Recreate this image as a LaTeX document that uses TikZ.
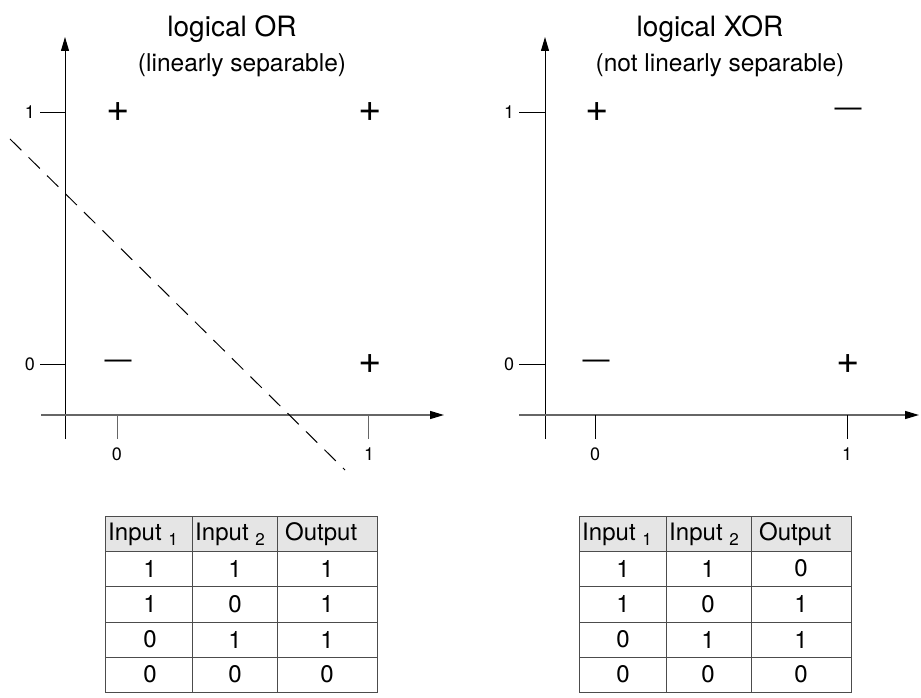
\documentclass[tikz,border=0pt]{standalone}
\usepackage{fontspec}
\setmainfont{TeX Gyre Heros}
\usetikzlibrary{arrows.meta}
\definecolor{headfill}{gray}{0.9}
\definecolor{gridcol}{gray}{0.3}
\definecolor{axcol}{gray}{0.4}
\begin{document}
\begin{tikzpicture}[x=1pt,y=-1pt,
  axisline/.style={line width=1pt,-{Triangle[length=14pt,width=8pt]}},
  hax/.style={line width=1.3pt,draw=axcol,-{Triangle[length=14pt,width=8pt,fill=black,color=black]}},
  tickline/.style={line width=0.9pt},
  ticklabel/.style={font=\fontsize{18}{18}\selectfont,inner sep=0pt},
  sym/.style={font=\fontsize{40}{40}\selectfont,inner sep=0pt},
  minussym/.style={font=\fontsize{27}{27}\selectfont,inner sep=0pt},
  titletext/.style={font=\fontsize{28}{28}\selectfont,inner sep=0pt,anchor=base},
  subtitletext/.style={font=\fontsize{24.5}{24.5}\selectfont,inner sep=0pt,anchor=base},
  cell/.style={font=\fontsize{24}{24}\selectfont,inner sep=0pt},
  subnum/.style={font=\fontsize{17}{17}\selectfont},
  gridline/.style={draw=gridcol,line width=0.9pt},
  sepline/.style={dashed,line width=1pt,dash pattern=on 16pt off 10pt}
]
\useasboundingbox (0,0) rectangle (921,698);
\fill[white] (0,0) rectangle (921,698);

% ---------------- left panel (OR) ----------------
\coordinate (Lyb) at (65,439);
\coordinate (Lyt) at (65,37);
\coordinate (Lxl) at (41,415);
\coordinate (Lxr) at (444,415);
\draw[axisline] (Lyb) -- (Lyt);
\draw[hax] (Lxl) -- (Lxr);
\coordinate (Lt0a) at (117,415); \coordinate (Lt0b) at (117,439);
\coordinate (Lt1a) at (368,415); \coordinate (Lt1b) at (368,439);
\draw[tickline,draw=axcol] (Lt0a) -- (Lt0b);
\draw[tickline,draw=axcol] (Lt1a) -- (Lt1b);
\coordinate (Ly1a) at (40,112); \coordinate (Ly1b) at (65,112);
\coordinate (Ly0a) at (40,364); \coordinate (Ly0b) at (65,364);
\draw[tickline] (Ly1a) -- (Ly1b);
\draw[tickline] (Ly0a) -- (Ly0b);
\node[ticklabel] (Lx0) at (117,454) {0};
\node[ticklabel] (Lx1) at (369,454) {1};
\node[ticklabel] (Ly1) at (30,112) {1};
\node[ticklabel] (Ly0) at (30,364) {0};
\node[sym] (Lp11) at (118,112) {+};
\node[sym] (Lp12) at (370,112) {+};
\node[minussym] (Lm00) at (118,364) {—};
\node[sym] (Lp10) at (370,364) {+};
\coordinate (Ds) at (10,139);
\coordinate (De) at (345,470);
\draw[sepline] (Ds) -- (De);
\node[titletext] (Ltitle) at (232,37) {logical OR};
\node[subtitletext] (Lsub) at (242,72) {(linearly separable)};

% ---------------- right panel (XOR) ----------------
\coordinate (Ryb) at (545,439);
\coordinate (Ryt) at (545,37);
\coordinate (Rxl) at (519,415);
\coordinate (Rxr) at (919,415);
\draw[axisline] (Ryb) -- (Ryt);
\draw[hax] (Rxl) -- (Rxr);
\coordinate (Rt0a) at (595,415); \coordinate (Rt0b) at (595,439);
\coordinate (Rt1a) at (847,415); \coordinate (Rt1b) at (847,439);
\draw[tickline] (Rt0a) -- (Rt0b);
\draw[tickline] (Rt1a) -- (Rt1b);
\coordinate (Ry1a) at (519,112); \coordinate (Ry1b) at (545,112);
\coordinate (Ry0a) at (519,364); \coordinate (Ry0b) at (545,364);
\draw[tickline] (Ry1a) -- (Ry1b);
\draw[tickline] (Ry0a) -- (Ry0b);
\node[ticklabel] (Rx0) at (595,454) {0};
\node[ticklabel] (Rx1) at (847,454) {1};
\node[ticklabel] (Ry1) at (509,112) {1};
\node[ticklabel] (Ry0) at (509,364) {0};
\node[sym] (Rp01) at (597,112) {+};
\node[minussym] (Rm11) at (848,112) {—};
\node[minussym] (Rm00) at (596,364) {—};
\node[sym] (Rp10) at (848,364) {+};
\node[titletext] (Rtitle) at (710,37) {logical XOR};
\node[subtitletext] (Rsub) at (720,72) {(not linearly separable)};

% ---------------- tables ----------------
\foreach \tab/\xa/\xb/\xc/\xd in {L/105/192/277/377, R/579/666/751/851}{
  \fill[headfill] (\xa,516) rectangle (\xd,551);
  \draw[gridline] (\xa,516) rectangle (\xd,692);
  \foreach \yy in {551,586,622,657} \draw[gridline] (\xa,\yy) -- (\xd,\yy);
  \draw[gridline] (\xb,516) -- (\xb,692);
  \draw[gridline] (\xc,516) -- (\xc,692);
  \node[cell,anchor=west] (\tab-h1) at (\xa+3,534) {Input \raisebox{-5pt}{\fontsize{17}{17}\selectfont 1}};
  \node[cell,anchor=west] (\tab-h2) at (\xb+3,534) {Input \raisebox{-5pt}{\fontsize{17}{17}\selectfont 2}};
  \node[cell,anchor=west] (\tab-h3) at (\xc+8,534) {Output};
}
\foreach \r/\a/\b/\c/\yy in {1/1/1/1/568.5, 2/1/0/1/604, 3/0/1/1/639.5, 4/0/0/0/674.5}{
  \node[cell] (L-\r-1) at (150,\yy) {\a};
  \node[cell] (L-\r-2) at (235,\yy) {\b};
  \node[cell] (L-\r-3) at (327,\yy) {\c};
}
\foreach \r/\a/\b/\c/\yy in {1/1/1/0/568.5, 2/1/0/1/604, 3/0/1/1/639.5, 4/0/0/0/674.5}{
  \node[cell] (R-\r-1) at (623,\yy) {\a};
  \node[cell] (R-\r-2) at (708,\yy) {\b};
  \node[cell] (R-\r-3) at (801,\yy) {\c};
}
\end{tikzpicture}
\end{document}
